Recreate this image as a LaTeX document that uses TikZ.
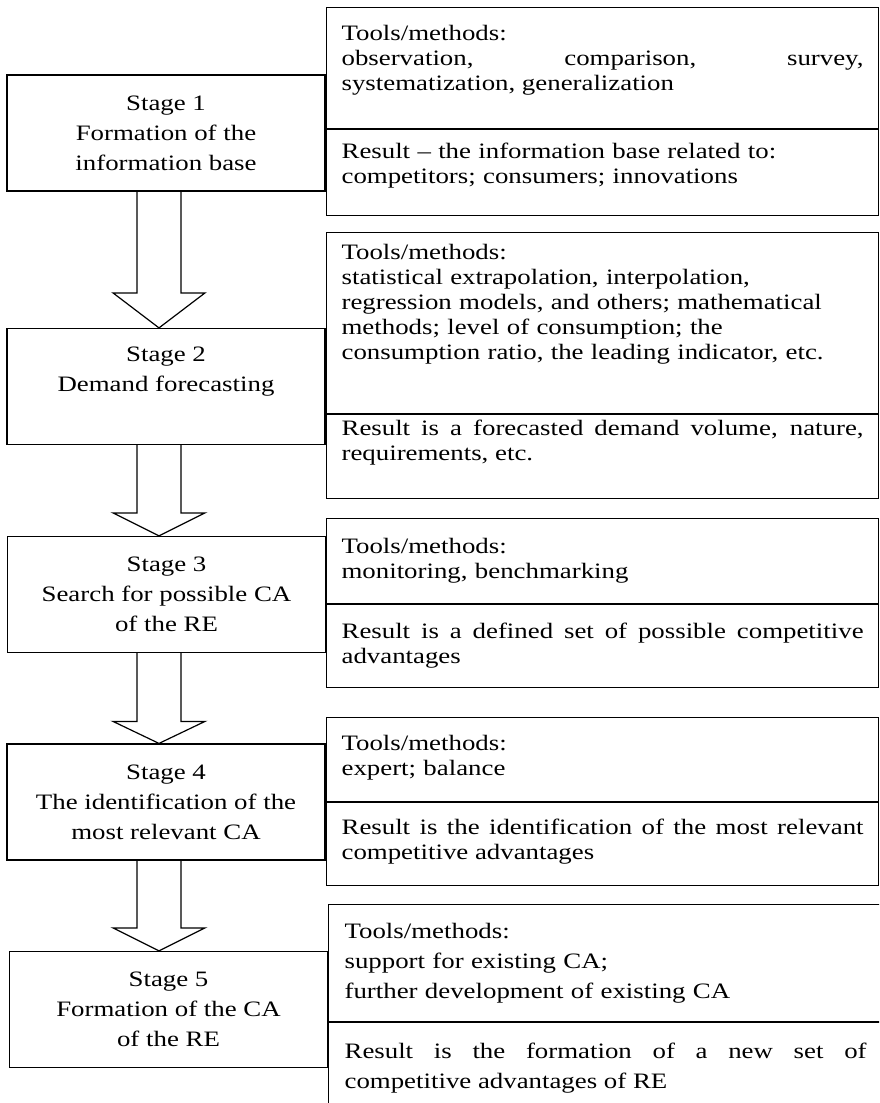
\documentclass[tikz,border=0pt]{standalone}
\usepackage{fontspec}
\setmainfont{Liberation Serif}[FakeStretch=1.22]
\usepackage{tikz}
\usetikzlibrary{positioning,calc}
\tikzset{x=0.5pt, y=-0.5pt}
\tikzset{stage/.style={draw, line width=0.6pt, minimum width=159pt, minimum height=58pt, inner sep=0pt, align=center, font=\fontsize{11pt}{15pt}\selectfont}}
\tikzset{sect/.style={draw, line width=0.6pt, anchor=north west, minimum width=276pt, inner xsep=7.5pt, inner ysep=0pt, text width=261pt, text height=8pt, text depth=#1, font=\fontsize{11pt}{12.5pt}\selectfont}}
\tikzset{just/.style={align=justify}}
\tikzset{rag/.style={align=left}}
\newcommand{\stagearrow}[3]{%
  \draw[line width=0.6pt] ($(#1.south -| ax)+(-22,0)$) -- ($(#2.north -| ax)+(-22,-#3)$) -- ($(#2.north -| ax)+(-46,-#3)$) -- (#2.north -| ax) -- ($(#2.north -| ax)+(46,-#3)$) -- ($(#2.north -| ax)+(22,-#3)$) -- ($(#1.south -| ax)+(22,0)$);}

\begin{document}
\begin{tikzpicture}
        \useasboundingbox (0,0) rectangle (879,1103);
        \clip (0,0) rectangle (879,1103);
        \coordinate (ax) at (159,0);
        \node[stage] (s1) at (166,133) {Stage 1\\Formation of the\\information base};
        \node[stage, text depth=17pt] (s2) at (166,386.5) {Stage 2\\Demand forecasting};
        \node[stage] (s3) at (166.5,594.5) {Stage 3\\Search for possible CA\\of the RE};
        \node[stage] (s4) at (166,802) {Stage 4\\The identification of the\\most relevant CA};
        \node[stage] (s5) at (168.5,1009.5) {Stage 5\\Formation of the CA\\of the RE};
        \node[sect=35.5pt, minimum height=60.5pt, just] (t1) at (326,7) {Tools/methods:\\observation, comparison, survey,\linebreak systematization, generalization};
        \node[sect=22pt, minimum height=43pt, rag] (r1) at (t1.south west) {Result – the information base related to:\\competitors; consumers; innovations};
        \node[sect=71.5pt, minimum height=90.5pt, rag] (t2) at (326,232) {Tools/methods:\\statistical extrapolation, interpolation,\\regression models, and others; mathematical\\methods; level of consumption; the\\consumption ratio, the leading indicator, etc.};
        \node[sect=29pt, minimum height=42pt, just] (r2) at (t2.south west) {Result is a forecasted demand volume, nature,\linebreak requirements, etc.};
        \node[sect=15.5pt, minimum height=42.5pt, rag] (t3) at (326,518) {Tools/methods:\\monitoring, benchmarking};
        \node[sect=15.5pt, minimum height=41.5pt, just] (r3) at (t3.south west) {Result is a defined set of possible competitive\linebreak advantages};
        \node[sect=17pt, minimum height=42pt, rag] (t4) at (326,717) {Tools/methods:\\expert; balance};
        \node[sect=17.5pt, minimum height=41.5pt, just] (r4) at (t4.south west) {Result is the identification of the most relevant\linebreak competitive advantages};
        \node[sect=32.5pt, minimum height=58.5pt, minimum width=277pt, rag, font=\fontsize{11pt}{15pt}\selectfont] (t5) at (328,904) {Tools/methods:\\support for existing CA;\\further development of existing CA};
        \node[sect=18pt, minimum height=46pt, minimum width=277pt, just, font=\fontsize{11pt}{15pt}\selectfont] (r5) at (t5.south west) {Result is the formation of a new set of\linebreak competitive advantages of RE};
        \stagearrow{s1}{s2}{35}
        \stagearrow{s2}{s3}{23}
        \stagearrow{s3}{s4}{22}
        \stagearrow{s4}{s5}{23}
\end{tikzpicture}
\end{document}
